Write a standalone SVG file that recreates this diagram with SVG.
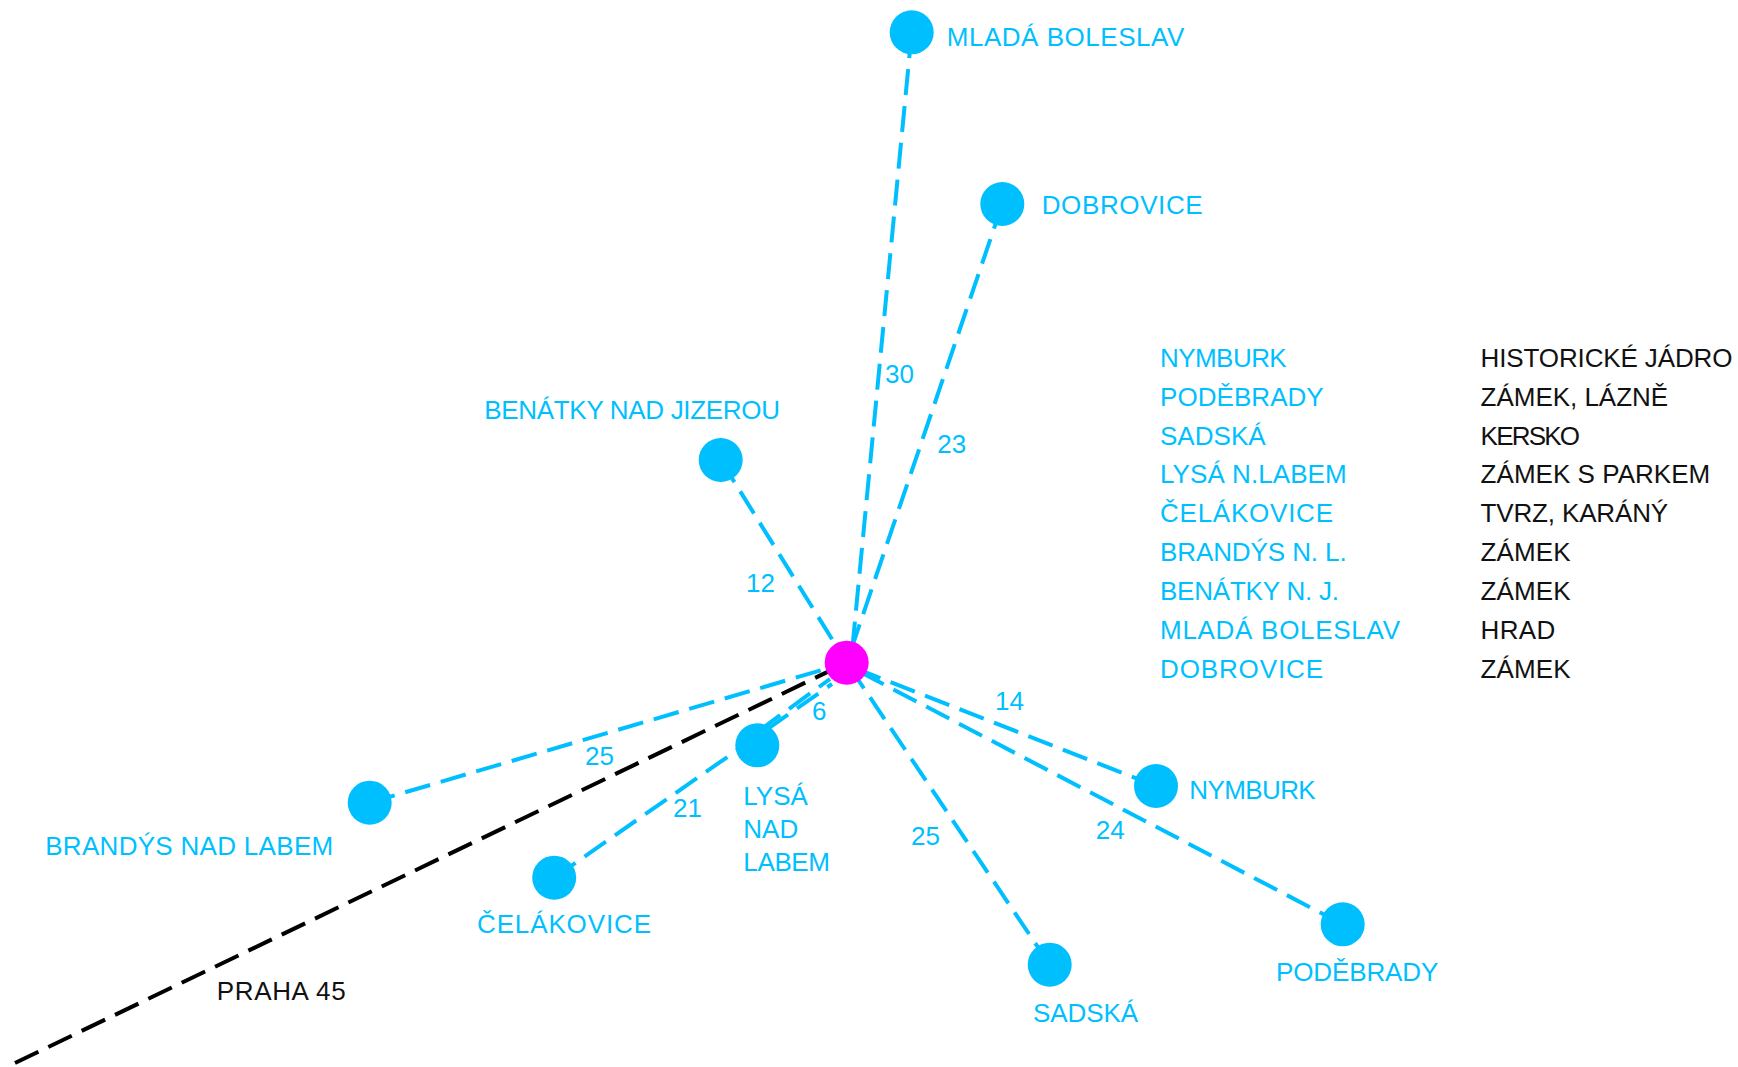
<svg xmlns="http://www.w3.org/2000/svg" width="1738" height="1067" viewBox="0 0 1738 1067">
<style>
  text { font-family: "Liberation Sans", Arial, sans-serif; font-size: 26px; }
  .c { fill: #00BFFF; }
  .k { fill: #111111; }
  .dot { fill: #00BFFF; }
  .hub { fill: #FF00FF; }
  .ln { stroke: #00BFFF; stroke-width: 4; stroke-dasharray: 26 11; fill: none; }
  .blk { stroke: #000000; stroke-width: 4; stroke-dasharray: 26 11; fill: none; }
</style>
<rect width="1738" height="1067" fill="#FFFFFF"/>

<g id="connectors">
  <line class="blk" x1="15" y1="1063" x2="846.7" y2="662.7"/>
  <g id="edge-mlada"><line class="ln" x1="911.7" y1="32.3" x2="851" y2="662"/><text class="c" x="885" y="382.7">30</text></g>
  <g id="edge-dobrovice"><line class="ln" x1="1002.3" y1="204" x2="846.7" y2="662.7"/><text class="c" x="937.3" y="453.3">23</text></g>
  <g id="edge-benatky"><line class="ln" x1="720.7" y1="460" x2="846.7" y2="662.7"/><text class="c" x="746" y="591.7">12</text></g>
  <g id="edge-brandys"><line class="ln" x1="369.7" y1="802.7" x2="846.7" y2="662.7"/><text class="c" x="585" y="765">25</text></g>
  <g id="edge-celakovice"><line class="ln" x1="554.2" y1="877.7" x2="832" y2="684"/><text class="c" x="673" y="816.7">21</text></g>
  <g id="edge-lysa"><line class="ln" x1="764" y1="727" x2="830" y2="679" stroke-dashoffset="6"/><text class="c" x="812" y="720">6</text></g>
  <g id="edge-sadska"><line class="ln" x1="1049.7" y1="964.7" x2="846.7" y2="662.7"/><text class="c" x="911" y="845">25</text></g>
  <g id="edge-nymburk"><line class="ln" x1="1156" y1="786" x2="846.7" y2="665"/><text class="c" x="995" y="710">14</text></g>
  <g id="edge-podebrady"><line class="ln" x1="1342.7" y1="924.3" x2="846.7" y2="665"/><text class="c" x="1095.7" y="839">24</text></g>
  <text class="k" x="216.7" y="1000" textLength="129">PRAHA 45</text>
</g>

<g id="node-hub"><circle class="hub" cx="846.7" cy="662.7" r="22"/></g>
<g id="node-mlada-boleslav"><circle class="dot" cx="911.7" cy="32.3" r="22"/><text class="c" x="946.7" y="45.7" textLength="237.6">MLADÁ BOLESLAV</text></g>
<g id="node-dobrovice"><circle class="dot" cx="1002.3" cy="204" r="22"/><text class="c" x="1041.7" y="214.3" textLength="161">DOBROVICE</text></g>
<g id="node-benatky"><circle class="dot" cx="720.7" cy="460" r="22"/><text class="c" x="484.3" y="419" textLength="295.7">BENÁTKY NAD JIZEROU</text></g>
<g id="node-brandys"><circle class="dot" cx="369.7" cy="802.7" r="22"/><text class="c" x="45.2" y="855" textLength="288">BRANDÝS NAD LABEM</text></g>
<g id="node-celakovice"><circle class="dot" cx="554.2" cy="877.7" r="22"/><text class="c" x="477" y="933.3" textLength="174">ČELÁKOVICE</text></g>
<g id="node-lysa"><circle class="dot" cx="757.3" cy="745.3" r="22"/>
  <text class="c" x="743.3" y="805">LYSÁ</text>
  <text class="c" x="743.3" y="838.3">NAD</text>
  <text class="c" x="743.3" y="870.7" textLength="86.7">LABEM</text>
</g>
<g id="node-sadska"><circle class="dot" cx="1049.7" cy="964.7" r="22"/><text class="c" x="1033" y="1021.7" textLength="105">SADSKÁ</text></g>
<g id="node-nymburk"><circle class="dot" cx="1156" cy="786" r="22"/><text class="c" x="1189.3" y="799" textLength="126.4">NYMBURK</text></g>
<g id="node-podebrady"><circle class="dot" cx="1342.7" cy="924.3" r="22"/><text class="c" x="1276" y="981" textLength="162.3">PODĚBRADY</text></g>

<g id="legend">
  <text class="c" x="1160" y="366.7" textLength="126.7">NYMBURK</text><text class="k" x="1480.6" y="366.7" textLength="251.8">HISTORICKÉ JÁDRO</text>
  <text class="c" x="1160" y="405.6" textLength="163.7">PODĚBRADY</text><text class="k" x="1480.6" y="405.6" textLength="187.5">ZÁMEK, LÁZNĚ</text>
  <text class="c" x="1160" y="444.5" textLength="105.6">SADSKÁ</text><text class="k" x="1480.6" y="444.5" textLength="99.5">KERSKO</text>
  <text class="c" x="1160" y="483.4" textLength="186.7">LYSÁ N.LABEM</text><text class="k" x="1480.6" y="483.4" textLength="229.6">ZÁMEK S PARKEM</text>
  <text class="c" x="1160" y="522.3" textLength="173">ČELÁKOVICE</text><text class="k" x="1480.6" y="522.3" textLength="187.5">TVRZ, KARÁNÝ</text>
  <text class="c" x="1160" y="561.2" textLength="186.7">BRANDÝS N. L.</text><text class="k" x="1480.6" y="561.2" textLength="90">ZÁMEK</text>
  <text class="c" x="1160" y="600.1" textLength="179">BENÁTKY N. J.</text><text class="k" x="1480.6" y="600.1" textLength="90">ZÁMEK</text>
  <text class="c" x="1160" y="639" textLength="240">MLADÁ BOLESLAV</text><text class="k" x="1480.6" y="639" textLength="74.6">HRAD</text>
  <text class="c" x="1160" y="677.9" textLength="163">DOBROVICE</text><text class="k" x="1480.6" y="677.9" textLength="90">ZÁMEK</text>
</g>
</svg>
